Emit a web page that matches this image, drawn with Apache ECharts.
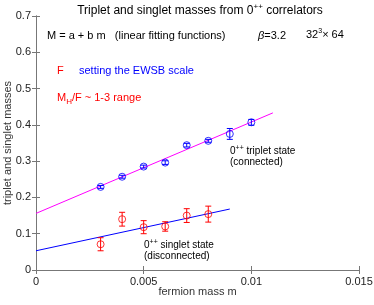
<!DOCTYPE html>
<html><head><meta charset="utf-8">
<script src="https://cdn.jsdelivr.net/npm/echarts@6/dist/echarts.min.js"></script>
<style>html,body{margin:0;padding:0;background:#fff}#c{width:374px;height:305px}</style>
</head><body><div id="c"></div>
<script>
const massM = [0.003, 0.004, 0.005, 0.006, 0.007, 0.008, 0.009, 0.010];
const tripletVals = [0.229, 0.257, 0.285, 0.296, 0.344, 0.356, 0.375, 0.407];
const tripletErr = [0.004, 0.004, 0.004, 0.005, 0.005, 0.004, 0.015, 0.008];
const singletM = [0.003, 0.004, 0.005, 0.006, 0.007, 0.008];
const singletVals = [0.071, 0.140, 0.118, 0.120, 0.150, 0.154];
const singletErr = [0.018, 0.019, 0.018, 0.013, 0.019, 0.022];
const tripletFit = [[0, 0.156], [0.011, 0.433]];
const singletFit = [[0, 0.053], [0.009, 0.168]];
const xTicks = [0, 0.005, 0.01, 0.015];
const yTicks = [0, 0.1, 0.2, 0.3, 0.4, 0.5, 0.6, 0.7];

const font = 'Liberation Sans, Arial, sans-serif';
const chart = echarts.init(document.getElementById('c'));

function errSeries(xs, ys, es, color) {
  return {
    type: 'custom',
    data: xs.map((x, i) => [x, ys[i] - es[i], ys[i] + es[i]]),
    renderItem: function (params, api) {
      const lo = api.coord([api.value(0), api.value(1)]);
      const hi = api.coord([api.value(0), api.value(2)]);
      const w = 3;
      return {
        type: 'group',
        children: [
          {type: 'line', shape: {x1: lo[0], y1: lo[1], x2: hi[0], y2: hi[1]}, style: {stroke: color, lineWidth: 1}},
          {type: 'line', shape: {x1: lo[0] - w, y1: lo[1], x2: lo[0] + w, y2: lo[1]}, style: {stroke: color, lineWidth: 1}},
          {type: 'line', shape: {x1: hi[0] - w, y1: hi[1], x2: hi[0] + w, y2: hi[1]}, style: {stroke: color, lineWidth: 1}}
        ]
      };
    },
    z: 3,
    silent: true
  };
}

const axisCommon = {
  axisLine: {show: true, lineStyle: {color: '#777', width: 1}},
  axisTick: {show: true, inside: true, length: 4, lineStyle: {color: '#777'}},
  splitLine: {show: false}
};

function rt(size, color, extra) {
  return Object.assign({fontSize: size, fontFamily: font, fill: color, color: color}, extra || {});
}

chart.setOption({
  animation: false,
  backgroundColor: '#fff',
  title: {
    text: '{n|Triplet and singlet masses from 0}{s|++}{n| correlators}',
    left: 195, textAlign: 'center', top: -2,
    textStyle: {fontWeight: 'normal', rich: {
      n: {fontSize: 12, fontFamily: font, color: '#000', fontWeight: 'normal'},
      s: {fontSize: 8, fontFamily: font, color: '#000', fontWeight: 'normal', padding: [0, 0, 7, 0]}
    }}
  },
  grid: {left: 36, right: 15, top: 16, bottom: 35, containLabel: false, outerBoundsMode: 'none'},
  xAxis: [
    Object.assign({
      type: 'value', min: 0, max: 0.015, interval: 0.005, position: 'bottom',
      name: 'fermion mass m', nameLocation: 'middle', nameGap: 16, nameMoveOverlap: false,
      nameTextStyle: {fontSize: 11, fontFamily: font, color: '#333'},
      axisLabel: {fontSize: 11, fontFamily: font, color: '#222', margin: 6,
        formatter: v => (xTicks.includes(v) ? String(v) : '')}
    }, axisCommon),
    Object.assign({
      type: 'value', min: 0, max: 0.015, interval: 0.005, position: 'top',
      axisLabel: {show: false}
    }, axisCommon)
  ],
  yAxis: [
    Object.assign({
      type: 'value', min: 0, max: 0.7, interval: 0.1, position: 'left',
      name: 'triplet and singlet masses', nameLocation: 'middle', nameGap: 23, nameMoveOverlap: false,
      nameTextStyle: {fontSize: 11, fontFamily: font, color: '#333'},
      axisLabel: {fontSize: 11, fontFamily: font, color: '#222', margin: 5,
        formatter: v => { const r = Math.round(v * 10) / 10; return yTicks.includes(r) ? String(r) : ''; }}
    }, axisCommon),
    Object.assign({
      type: 'value', min: 0, max: 0.7, interval: 0.1, position: 'right',
      axisLabel: {show: false}
    }, axisCommon)
  ],
  series: [
    {type: 'line', data: tripletFit, symbol: 'none', lineStyle: {color: '#ff00ff', width: 1}, z: 2, silent: true},
    {type: 'line', data: singletFit, symbol: 'none', lineStyle: {color: '#0000ff', width: 1}, z: 2, silent: true},
    errSeries(massM, tripletVals, tripletErr, '#0000ff'),
    errSeries(singletM, singletVals, singletErr, '#ff0000'),
    {type: 'scatter', data: massM.map((x, i) => [x, tripletVals[i]]), symbol: 'circle', symbolSize: 7,
      itemStyle: {color: 'rgba(0,0,0,0)', borderColor: '#0000ff', borderWidth: 1}, z: 4, silent: true},
    {type: 'scatter', data: singletM.map((x, i) => [x, singletVals[i]]), symbol: 'circle', symbolSize: 7,
      itemStyle: {color: 'rgba(0,0,0,0)', borderColor: '#ff0000', borderWidth: 1}, z: 4, silent: true}
  ],
  graphic: [
    {type: 'text', left: 47, top: 30, style: {text: 'M = a + b m   (linear fitting functions)', font: '11px ' + font, fill: '#000'}},
    {type: 'text', left: 258, top: 30, style: {text: '{i|β}{n|=3.2}', rich: {
      i: rt(11, '#000', {fontStyle: 'italic'}), n: rt(11, '#000')}}},
    {type: 'text', left: 306, top: 28, style: {text: '{n|32}{s|3}{n|× 64}', rich: {
      n: rt(11, '#000'), s: rt(7, '#000', {padding: [0, 0, 6, 0]})}}},
    {type: 'text', left: 57, top: 65, style: {text: 'F', font: '11px ' + font, fill: '#ff0000'}},
    {type: 'text', left: 79, top: 65, style: {text: 'setting the EWSB scale', font: '11px ' + font, fill: '#0000ff'}},
    {type: 'text', left: 57, top: 92, style: {text: '{n|M}{b|H}{n|/F ~ 1-3 range}', rich: {
      n: rt(11, '#ff0000'), b: rt(8, '#ff0000', {padding: [8, 0, 0, 0]})}}},
    {type: 'text', left: 230, top: 145, style: {text: '{n|0}{s|++}{n| triplet state}\n{n|(connected)}', rich: {
      n: rt(10, '#000', {lineHeight: 11}), s: rt(7, '#000', {padding: [0, 0, 5, 0], lineHeight: 11})}}},
    {type: 'text', left: 144, top: 239, style: {text: '{n|0}{s|++}{n| singlet state}\n{n|(disconnected)}', rich: {
      n: rt(10, '#000', {lineHeight: 11}), s: rt(7, '#000', {padding: [0, 0, 5, 0], lineHeight: 11})}}}
  ]
});
</script></body></html>
